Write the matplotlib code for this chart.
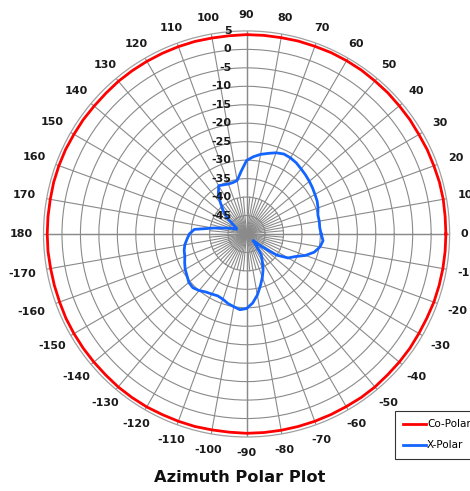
import numpy as np
import matplotlib
matplotlib.use("Agg")
import matplotlib.pyplot as plt

# angles in degrees, 0 = east, counter-clockwise
angles = list(range(0, 360, 5))

# X-Polar response (dB), one value per 5 degrees
x_polar = [-29.8, -30.1, -30.0, -30.0, -29.4, -28.9, -28.6, -28.2, -27.8, -27.4,
           -27.0, -26.5, -26.2, -26.1, -26.6, -27.4, -28.1, -29.0, -30.1, -33.0,
           -35.3, -35.6, -35.6, -35.3, -34.9, -36.7, -39.0, -41.0, -43.0, -45.5,
           -46.8, -47.0, -45.5, -43.8, -40.8, -35.8, -34.5, -33.8, -33.0, -32.5,
           -32.2, -31.5, -30.8, -30.3, -29.6, -29.4, -30.0, -30.8, -31.2, -31.5,
           -31.2, -30.5, -30.0, -29.4, -29.8, -31.2, -33.2, -35.5, -37.5, -39.4,
           -41.5, -43.0, -46.0, -47.5, -44.7, -40.0, -37.0, -35.5, -33.0, -31.0,
           -29.8, -29.2]

# Co-Polar response (dB), nearly flat
co_polar = [4.0, 4.0, 4.1, 4.1, 4.0, 4.0, 3.9, 4.0, 4.0, 4.1, 4.1, 4.2,
            4.2, 4.2, 4.1, 4.1, 4.0, 4.0, 4.0, 3.9, 3.9, 4.0, 4.0, 4.0,
            4.0, 4.0, 4.0, 3.9, 3.9, 4.0, 4.0, 4.1, 4.1, 4.1, 4.0, 4.0,
            4.0, 4.0, 3.9, 3.9, 3.9, 4.0, 4.0, 4.0, 4.0, 4.0, 4.1, 4.1,
            4.1, 4.0, 4.0, 4.0, 3.9, 3.9, 4.0, 4.0, 4.0, 4.0, 4.0, 4.0,
            4.0, 4.1, 4.1, 4.0, 4.0, 4.0, 3.9, 3.9, 4.0, 4.0, 4.0, 4.0]

r_ticks = [5, 0, -5, -10, -15, -20, -25, -30, -35, -40, -45]
theta_ticks = list(range(0, 360, 10))
theta_labels = [str(a) if a <= 180 else str(a - 360) for a in theta_ticks]

rmin, rmax = -50, 5
grid_col = "#8a8a8a"
text_col = "#1a1a1a"

fig = plt.figure(figsize=(4.7, 4.91), dpi=100)
ax = fig.add_axes([0.0926, 0.110, 0.864, 0.827], projection="polar")
ax.set_theta_zero_location("E")
ax.set_theta_direction(1)
ax.set_ylim(rmin, rmax)

ax.set_xticks(np.radians(theta_ticks))
ax.set_xticklabels([])
ax.set_yticks(r_ticks[1:])
ax.set_yticklabels([])
ax.grid(True, color=grid_col, linewidth=0.8)
ax.spines["polar"].set_color("#a0a0a0")
ax.spines["polar"].set_linewidth(0.9)

# darker main axes
for a in [0, 90, 180, 270]:
    ax.plot([np.radians(a)] * 2, [rmin, rmax], color="#555555", lw=0.9, zorder=1)

# extra fine spokes near the centre
for a in range(5, 360, 10):
    ax.plot([np.radians(a)] * 2, [rmin, -40], color=grid_col, lw=0.8, zorder=1)

th = np.radians(angles + [angles[0]])
ax.plot(th, co_polar + [co_polar[0]], color="#ff0000", lw=2.0, label="Co-Polar", zorder=3)
ax.plot(th, x_polar + [x_polar[0]], color="#1464ff", lw=2.0, label="X-Polar", zorder=3)

# angle labels outside the circle, near edge about 11 px from the ring
renderer = fig.canvas.get_renderer()
gap = 11
for a, lab in zip(theta_ticks, theta_labels):
    t = ax.annotate(lab, xy=(np.radians(a), rmax), xytext=(0, 0), textcoords="offset pixels",
                    ha="center", va="center", fontsize=8, fontweight="bold",
                    color=text_col, annotation_clip=False)
    bb = t.get_window_extent(renderer)
    c, s = np.cos(np.radians(a)), np.sin(np.radians(a))
    d = gap + min(abs(bb.width / 2 / c) if abs(c) > 1e-6 else 1e9,
                  abs(bb.height / 2 / s) if abs(s) > 1e-6 else 1e9)
    t.set_position((d * c, d * s))

# radial labels along the 90 degree spoke
for r in r_ticks:
    ax.annotate(str(r), xy=(np.pi / 2, r), xytext=(-15, 0), textcoords="offset pixels",
                ha="right", va="center", fontsize=8, fontweight="bold", color=text_col,
                zorder=4)

fig.text(0.511, 0.027, "Azimuth Polar Plot", ha="center", va="center",
         fontsize=11.7, fontweight="bold", color="#111111")

leg = fig.legend(loc="upper left", bbox_to_anchor=(0.840, 0.163), fontsize=7.5,
                 frameon=True, fancybox=False, handlelength=2.2, borderpad=0.8,
                 labelspacing=1.05, handletextpad=0.1, borderaxespad=0)
leg.get_frame().set_edgecolor("black")
leg.get_frame().set_linewidth(0.8)

fig.savefig("out.png", dpi=100)
